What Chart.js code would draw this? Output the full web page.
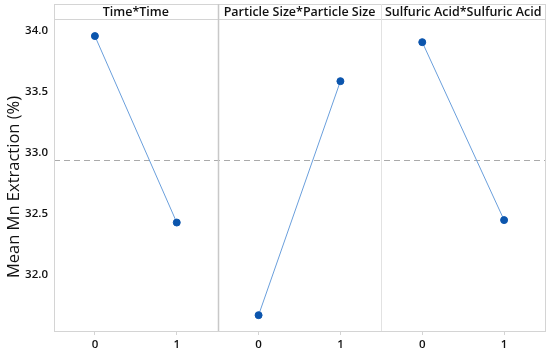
<!DOCTYPE html>
<html>
<head>
<meta charset="utf-8">
<script src="https://cdn.jsdelivr.net/npm/chart.js@4.4.0/dist/chart.umd.min.js"></script>
<style>
  html, body { margin: 0; padding: 0; background: #fff; }
  #wrap { width: 550px; height: 353px; }
</style>
</head>
<body>
<div id="wrap"><canvas id="chart"></canvas></div>
<script>
// factor names shown in the header strip
var factors = ["Time*Time", "Particle Size*Particle Size", "Sulfuric Acid*Sulfuric Acid"];
var levels = [0, 1];
var timeMeans = [33.96, 32.43];
var particleMeans = [31.67, 33.59];
var acidMeans = [33.91, 32.45];
var overallMean = 32.94;
var yTicks = [32.0, 32.5, 33.0, 33.5, 34.0];
var yTitle = "Mean Mn Extraction (%)";

var allMeans = [timeMeans, particleMeans, acidMeans];
var fontFam = "'Open Sans', 'Noto Sans', sans-serif";
var gridCol = "#d4d4d4";

var datasets = [];
for (var i = 0; i < allMeans.length; i++) {
  datasets.push({
    label: factors[i],
    data: levels.map(function (lv, j) { return { x: lv + 2 * i, y: allMeans[i][j] }; }),
    borderColor: "#6a9fdc",
    borderWidth: 1,
    pointBackgroundColor: "#0b55ad",
    pointBorderColor: "#0b55ad",
    pointRadius: 3.5,
    showLine: true,
    tension: 0
  });
}

// dashed overall mean, panel boxes, header titles, y title
var panelPlugin = {
  id: "panels",
  beforeDatasetsDraw: function (chart) {
    var ctx = chart.ctx, xs = chart.scales.x, ys = chart.scales.y, a = chart.chartArea;
    var headTop = 4;
    ctx.save();
    ctx.strokeStyle = "#aaaaaa";
    ctx.lineWidth = 1.2;
    ctx.setLineDash([6, 4]);
    var my = Math.round(ys.getPixelForValue(overallMean)) + 0.5;
    ctx.beginPath(); ctx.moveTo(a.left, my); ctx.lineTo(a.right, my); ctx.stroke();
    ctx.setLineDash([]);
    ctx.strokeStyle = gridCol;
    ctx.lineWidth = 1;
    ctx.strokeRect(Math.round(a.left) + 0.5, headTop + 0.5, Math.round(a.right - a.left), Math.round(a.bottom - headTop));
    ctx.beginPath(); ctx.moveTo(a.left, Math.round(a.top) + 0.5); ctx.lineTo(a.right, Math.round(a.top) + 0.5); ctx.stroke();
    for (var k = 1; k < factors.length; k++) {
      var sx = Math.round(xs.getPixelForValue(2 * k - 0.5)) + 0.5;
      ctx.strokeStyle = k === 1 ? "#c8c8c8" : "#e2e2e2";
      ctx.lineWidth = k === 1 ? 1.5 : 1;
      ctx.beginPath(); ctx.moveTo(sx, headTop); ctx.lineTo(sx, a.bottom); ctx.stroke();
    }
    ctx.fillStyle = "#111";
    ctx.font = "600 12.5px " + fontFam;
    ctx.textAlign = "center";
    ctx.textBaseline = "middle";
    for (var t = 0; t < factors.length; t++) {
      ctx.fillText(factors[t], xs.getPixelForValue(2 * t + 0.5), (headTop + a.top) / 2 + 0.5);
    }
    // y title sits a bit lower than the plot centre in the original
    ctx.translate(14, 187);
    ctx.rotate(-Math.PI / 2);
    ctx.font = "16.5px " + fontFam;
    ctx.fillText(yTitle, 0, 0);
    ctx.restore();
  }
};

new Chart(document.getElementById("chart"), {
  type: "scatter",
  data: { datasets: datasets },
  options: {
    responsive: true,
    maintainAspectRatio: false,
    animation: false,
    layout: { padding: { top: 19, right: 5, left: 0, bottom: 0 } },
    plugins: { legend: { display: false }, tooltip: { enabled: false } },
    scales: {
      x: {
        type: "linear",
        min: -0.5,
        max: 2 * factors.length - 0.5,
        afterBuildTicks: function (s) {
          var tk = [];
          for (var i = 0; i < factors.length; i++) levels.forEach(function (lv) { tk.push({ value: lv + 2 * i }); });
          s.ticks = tk;
        },
        afterFit: function (s) { s.height = 22; },
        ticks: {
          callback: function (v) { return String(v % 2); },
          color: "#111",
          font: { family: fontFam, size: 11.5, weight: "600" },
          padding: 3,
          maxRotation: 0
        },
        grid: { drawOnChartArea: false, color: gridCol, tickLength: 4 },
        border: { color: gridCol }
      },
      y: {
        min: 31.54,
        max: 34.1,
        afterBuildTicks: function (s) { s.ticks = yTicks.map(function (v) { return { value: v }; }); },
        afterFit: function (s) { s.width = 54; },
        ticks: {
          callback: function (v) { return v.toFixed(1); },
          color: "#111",
          font: { family: fontFam, size: 11.5, weight: "600" },
          padding: 6
        },
        grid: { display: false, drawTicks: false },
        border: { color: gridCol }
      }
    }
  },
  plugins: [panelPlugin]
});
</script>
</body>
</html>
